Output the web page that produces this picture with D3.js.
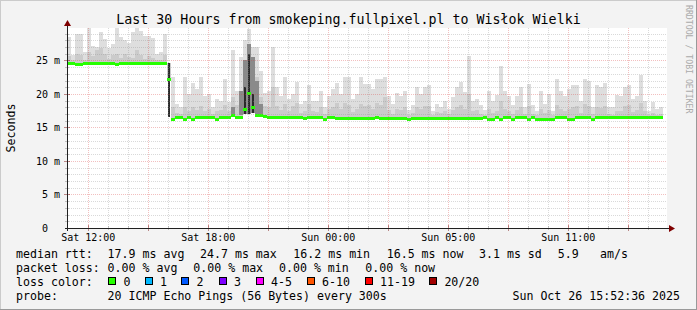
<!DOCTYPE html>
<html><head><meta charset="utf-8">
<script src="https://cdn.jsdelivr.net/npm/d3@7"></script>
<style>
html,body{margin:0;padding:0;background:#f3f3f3;}
svg{display:block;}
text{font-family:"DejaVu Sans Mono",monospace;white-space:pre;}
</style></head><body>
<svg id="c" width="697" height="310"></svg>
<script>
// ---------- data ----------
const titleText = "Last 30 Hours from smokeping.fullpixel.pl to Wisłok Wielki";
const yTickValues = [0, 5, 10, 15, 20, 25];
const yTickLabels = ["0  ", "5 m", "10 m", "15 m", "20 m", "25 m"];
const xTickHours = [1.065, 7.065, 13.065, 19.065, 25.065];
const xTickLabels = ["Sat 12:00", "Sat 18:00", "Sun 00:00", "Sun 05:00", "Sun 11:00"];
const stepHours = 0.2; // each column = 12 minutes

// median rtt (ms) per column
const medianRtt = [
 24.6,24.6,24.5,24.5,24.6,24.6,24.6,24.6,24.6,24.6,24.6,24.6,24.5,24.6,24.6,24.6,24.6,24.6,24.6,24.6,24.6,24.6,24.6,24.6,24.6,
 22.2,
 16.3,16.5,16.5,16.3,
 16.5,16.3,16.5,16.5,16.5,16.5,16.5,16.3,16.5,16.5,16.5,
 16.9,16.5,16.6,17.7,20.2,18.0,16.8,16.9,16.7,16.6,16.5,16.5,16.6,16.5,16.5,16.5,16.5,16.5,16.4,
 16.55,16.55,16.55,16.55,16.3,16.55,16.55,16.4,16.4,16.4,16.4,16.4,16.4,16.4,16.4,16.4,16.4,16.6,16.45,16.45,16.45,16.45,16.45,16.45,16.45,16.25,16.45,16.45,16.45,16.45,
 16.4,16.4,16.4,16.4,16.4,16.4,16.4,16.4,16.4,16.4,16.4,16.4,16.4,16.4,16.5,16.3,16.3,16.6,16.3,16.6,16.6,16.3,16.6,16.6,16.6,16.3,16.5,16.3,16.3,16.3,
 16.3,16.3,16.55,16.55,16.55,16.3,16.3,16.55,16.55,16.55,16.55,16.3,16.55,16.55,16.55,16.55,16.55,16.55,16.55,16.55,16.55,16.55,16.55,16.55,16.55,16.55,16.55,16.55,16.55
];
// top of the lightest smoke (slowest ping) per column
const smokeMax = [
 28.5,25.8,29.0,29.0,26.2,29.9,27.2,27.0,29.2,28.2,26.8,27.5,29.9,28.5,28.0,27.6,29.2,29.9,29.4,28.6,28.6,28.3,26.0,26.2,29.0,
 24.6,
 22.5,18.5,18.0,22.5,
 20.0,21.6,20.7,22.5,19.7,20.0,18.0,19.2,19.0,22.3,18.8,26.5,20.5,25.5,28.0,29.7,27.0,27.0,23.5,20.2,20.5,27.0,21.0,19.7,22.5,19.3,20.0,21.8,18.5,19.0,
 21.3,19.0,19.0,20.5,18.0,19.7,20.7,21.6,20.0,22.5,22.5,19.2,20.0,22.5,21.5,21.5,20.7,22.3,22.3,22.5,19.7,18.5,20.2,19.7,20.5,17.6,18.3,21.0,20.0,21.0,
 21.3,17.5,18.5,18.0,19.0,17.8,19.5,21.0,21.8,20.3,25.7,19.0,19.3,18.3,17.6,20.5,19.0,19.8,24.2,20.5,19.7,18.3,19.7,21.0,18.0,21.5,18.3,17.5,20.5,18.5,
 20.0,17.5,22.3,20.5,19.7,20.7,21.3,21.3,19.0,22.3,22.0,18.0,21.3,21.0,21.6,18.0,18.0,19.8,19.7,21.0,21.3,19.2,19.7,22.8,19.0,17.5,18.8,17.8,18.0
];
// top of the denser (medium grey) smoke per column
const smokeMid = [
 25.6,25.0,26.0,25.8,25.1,26.2,25.6,26.6,26.8,26.0,25.2,25.8,26.0,25.4,25.9,25.5,25.3,26.5,25.8,25.2,25.6,25.4,25.0,25.1,25.8,
 24.6,
 18.0,17.2,17.0,18.0,
 17.5,18.0,17.6,18.2,17.4,17.8,17.0,17.5,17.6,18.3,17.4,19.5,18.4,20.5,25.0,27.0,24.0,22.5,19.5,18.2,18.0,21.0,18.2,17.6,18.5,17.5,18.2,18.6,17.2,17.4,
 18.5,17.5,17.3,18.0,17.0,17.8,18.0,18.6,17.8,18.6,18.4,17.3,17.8,18.5,18.2,18.4,17.8,18.6,18.3,19.5,17.6,17.0,17.8,17.6,18.0,16.9,17.1,18.0,17.8,18.2,
 18.2,16.9,17.3,17.2,17.5,17.0,17.6,18.0,18.4,17.8,20.0,17.4,17.6,17.0,16.9,17.8,17.2,17.5,19.0,17.8,17.5,17.0,17.6,18.0,17.0,18.2,17.0,16.9,17.8,17.2,
 17.6,16.9,18.4,17.8,17.4,17.8,18.0,18.2,17.2,18.5,18.2,17.0,18.0,17.9,18.2,17.0,16.9,17.5,17.5,18.2,18.4,17.3,17.6,18.6,17.4,16.9,17.2,16.9,17.0
];
// dark grey smoke where many pings cluster
const darkCols = [41, 43, 44, 45, 46, 47, 48];
const darkLow  = [16.8, 16.8, 17.0, 17.0, 17.2, 16.9, 16.9];
const darkHigh = [18.0, 20.5, 25.0, 27.5, 25.5, 22.0, 18.5];
// near-black core of the densest smoke
const coreCols = [25, 44, 45, 46];
const coreLow  = [16.5, 17.0, 17.0, 17.2];
const coreHigh = [24.6, 21.0, 26.0, 20.0];

const legendRow1 = ["median rtt:", "17.9 ms avg", "24.7 ms max", "16.2 ms min", "16.5 ms now", "3.1 ms sd", "5.9", "am/s"];
const legendRow2 = ["packet loss:", "0.00 % avg", "0.00 % max", "0.00 % min", "0.00 % now"];
const lossLabels = ["0", "1", "2", "3", "4-5", "6-10", "11-19", "20/20"];
const lossColors = ["#26ff00", "#00b8ff", "#0059ff", "#7e00ff", "#ff00ff", "#ff5500", "#ff0000", "#a10000"];
const probeText = "20 ICMP Echo Pings (56 Bytes) every 300s";
const dateText = "Sun Oct 26 15:52:36 2025";

// ---------- layout ----------
const W = 697, H = 310;
const P = {l: 67, r: 667, t: 28, b: 228};
const svg = d3.select("#c");
const x = d3.scaleLinear().domain([0, 30]).range([P.l, P.r]);
const y = d3.scaleLinear().domain([0, 29.85]).range([P.b, P.t]);

const gridMinor = "rgba(140,140,140,0.33)";
const gridMajor = "rgba(215,60,60,0.33)";

// background + 3D frame
svg.append("rect").attr("width", W).attr("height", H).attr("fill", "#f3f3f3");
svg.append("path").attr("d", `M0,${H} V0 H${W}`).attr("stroke", "#cbcbcb").attr("stroke-width", 2).attr("fill", "none");
svg.append("path").attr("d", `M${W},0 V${H} H0`).attr("stroke", "#999999").attr("stroke-width", 2).attr("fill", "none");

// canvas
svg.append("rect").attr("x", P.l).attr("y", P.t).attr("width", P.r - P.l).attr("height", P.b - P.t).attr("fill", "#ffffff");

const cols = medianRtt.map((m, i) => i);
const gS = svg.append("g").attr("shape-rendering", "crispEdges");
const cx0 = i => Math.round(x(i * stepHours));
const cx1 = i => Math.round(x((i + 1) * stepHours));

gS.selectAll("rect.light").data(cols).join("rect").attr("class", "light")
  .attr("x", cx0).attr("width", i => cx1(i) - cx0(i))
  .attr("y", i => y(smokeMax[i])).attr("height", i => y(medianRtt[i]) - y(smokeMax[i]))
  .attr("fill", "#dedede");
gS.selectAll("rect.mid").data(cols).join("rect").attr("class", "mid")
  .attr("x", cx0).attr("width", i => cx1(i) - cx0(i))
  .attr("y", i => y(smokeMid[i])).attr("height", i => Math.max(0, y(medianRtt[i]) - y(smokeMid[i])))
  .attr("fill", "#cbcbcb");
gS.selectAll("rect.dark").data(darkCols).join("rect").attr("class", "dark")
  .attr("x", c => cx0(c)).attr("width", c => cx1(c) - cx0(c))
  .attr("y", (c, k) => y(darkHigh[k])).attr("height", (c, k) => y(darkLow[k]) - y(darkHigh[k]))
  .attr("fill", "#8a8a8a");
gS.selectAll("rect.core").data(coreCols).join("rect").attr("class", "core")
  .attr("x", c => cx0(c) + 1).attr("width", 2)
  .attr("y", (c, k) => y(coreHigh[k])).attr("height", (c, k) => y(coreLow[k]) - y(coreHigh[k]))
  .attr("fill", "#2a2a2a");

// grid (on top of smoke, semi transparent dotted)
const gG = svg.append("g").attr("shape-rendering", "crispEdges");
const minorY = d3.range(1, 30).filter(v => v % 5 !== 0 && y(v) > P.t);
const majorY = yTickValues.filter(v => v > 0);
const hourLines = d3.range(1, 30).map(k => 0.065 + k);
gG.selectAll("line.my").data(minorY).join("line")
  .attr("x1", P.l).attr("x2", P.r).attr("y1", v => Math.round(y(v)) + 0.5).attr("y2", v => Math.round(y(v)) + 0.5)
  .attr("stroke", gridMinor).attr("stroke-dasharray", "1,1");
gG.selectAll("line.mx").data(hourLines).join("line")
  .attr("y1", P.t).attr("y2", P.b).attr("x1", h => Math.round(x(h)) + 0.5).attr("x2", h => Math.round(x(h)) + 0.5)
  .attr("stroke", (h, k) => (k % 3 === 0) ? gridMajor : gridMinor)
  .attr("stroke-dasharray", "1,1");
gG.selectAll("line.My").data(majorY).join("line")
  .attr("x1", P.l).attr("x2", P.r).attr("y1", v => Math.round(y(v)) + 0.5).attr("y2", v => Math.round(y(v)) + 0.5)
  .attr("stroke", gridMajor).attr("stroke-dasharray", "1,1");

// median line (band coloured by loss 0)
gS.append("g").selectAll("rect").data(cols).join("rect")
  .attr("x", cx0).attr("width", i => cx1(i) - cx0(i))
  .attr("y", i => Math.round(y(medianRtt[i])) - 1).attr("height", 3)
  .attr("fill", lossColors[0]);

// axis ticks
const gA = svg.append("g").attr("shape-rendering", "crispEdges");
gA.selectAll("line.yt").data(d3.range(1, 30)).join("line")
  .attr("x1", v => v % 5 === 0 ? P.l - 3 : P.l - 2).attr("x2", v => v % 5 === 0 ? P.l + 3 : P.l + 2)
  .attr("y1", v => Math.round(y(v)) + 0.5).attr("y2", v => Math.round(y(v)) + 0.5)
  .attr("stroke", v => v % 5 === 0 ? "rgba(130,30,30,0.5)" : "rgba(140,140,140,0.5)");
gA.selectAll("line.xt").data(hourLines).join("line")
  .attr("x1", h => Math.round(x(h)) + 0.5).attr("x2", h => Math.round(x(h)) + 0.5)
  .attr("y1", (h, k) => k % 3 === 0 ? P.b - 3 : P.b - 2).attr("y2", (h, k) => k % 3 === 0 ? P.b + 3 : P.b + 2)
  .attr("stroke", (h, k) => k % 3 === 0 ? "rgba(130,30,30,0.5)" : "rgba(140,140,140,0.5)");

// axes
gA.append("line").attr("x1", P.l - 2).attr("x2", P.r + 2).attr("y1", P.b + 0.5).attr("y2", P.b + 0.5).attr("stroke", "#202020");
gA.append("line").attr("x1", P.l + 0.5).attr("x2", P.l + 0.5).attr("y1", P.b + 3).attr("y2", P.t - 3).attr("stroke", "#202020");
svg.append("path").attr("d", `M${P.l - 3},${P.t - 2} L${P.l + 4},${P.t - 2} L${P.l + 0.5},${P.t - 8} Z`).attr("fill", "#7f0000");
svg.append("path").attr("d", `M${P.r + 2},${P.b - 3} L${P.r + 2},${P.b + 4} L${P.r + 8},${P.b + 0.5} Z`).attr("fill", "#7f0000");

// y labels
svg.append("g").selectAll("text").data(yTickValues).join("text")
  .attr("x", 60).attr("y", v => y(v)).attr("dy", "0.36em")
  .attr("text-anchor", "end").attr("font-size", "10px").attr("fill", "#000")
  .text((v, k) => yTickLabels[k]);
// x labels
svg.append("g").selectAll("text").data(xTickHours).join("text")
  .attr("x", h => x(h)).attr("y", 241)
  .attr("text-anchor", "middle").attr("font-size", "10px").attr("fill", "#000")
  .text((h, k) => xTickLabels[k]);

// title
svg.append("text").attr("x", 348.5).attr("y", 24).attr("text-anchor", "middle")
  .attr("font-size", "13.3px").attr("fill", "#000").text(titleText);
// y axis title
svg.append("text").attr("transform", "translate(15,128) rotate(-90)").attr("text-anchor", "middle")
  .attr("font-size", "11.6px").attr("fill", "#000").text("Seconds");
// watermark
svg.append("text").attr("transform", "translate(685.5,5) rotate(90)").attr("text-anchor", "start")
  .attr("font-size", "8.2px").attr("fill", "#aaaaaa").text("RRDTOOL / TOBI OETIKER");

// legend
const fs = "11.6px";
const row1X = [16, 107.6, 200, 293.3, 386.7, 479, 557.8, 600];
const row2X = [16, 107.6, 193.3, 279, 365.3];
const lossX = [123.6, 160, 196.4, 234, 271, 322, 380, 444.4];
const L = svg.append("g").attr("font-size", fs).attr("fill", "#000");
L.selectAll("text.r1").data(legendRow1).join("text").attr("class", "r1")
  .attr("x", (t, k) => row1X[k]).attr("y", 258).text(t => t);
L.selectAll("text.r2").data(legendRow2).join("text").attr("class", "r2")
  .attr("x", (t, k) => row2X[k]).attr("y", 272).text(t => t);
L.append("text").attr("x", 16).attr("y", 286).text("loss color:");
L.selectAll("text.r3").data(lossLabels).join("text").attr("class", "r3")
  .attr("x", (t, k) => lossX[k]).attr("y", 286).text(t => t);
L.selectAll("rect.box").data(lossColors).join("rect").attr("class", "box")
  .attr("x", (c, k) => Math.round(lossX[k] - 15.5) + 0.5).attr("y", 277.5).attr("width", 7).attr("height", 7)
  .attr("fill", c => c).attr("stroke", "#000").attr("stroke-width", 1);
L.append("text").attr("x", 16).attr("y", 300).text("probe:");
L.append("text").attr("x", 107.6).attr("y", 300).text(probeText);
L.append("text").attr("x", 680).attr("y", 300).attr("text-anchor", "end").text(dateText);
</script>
</body></html>
